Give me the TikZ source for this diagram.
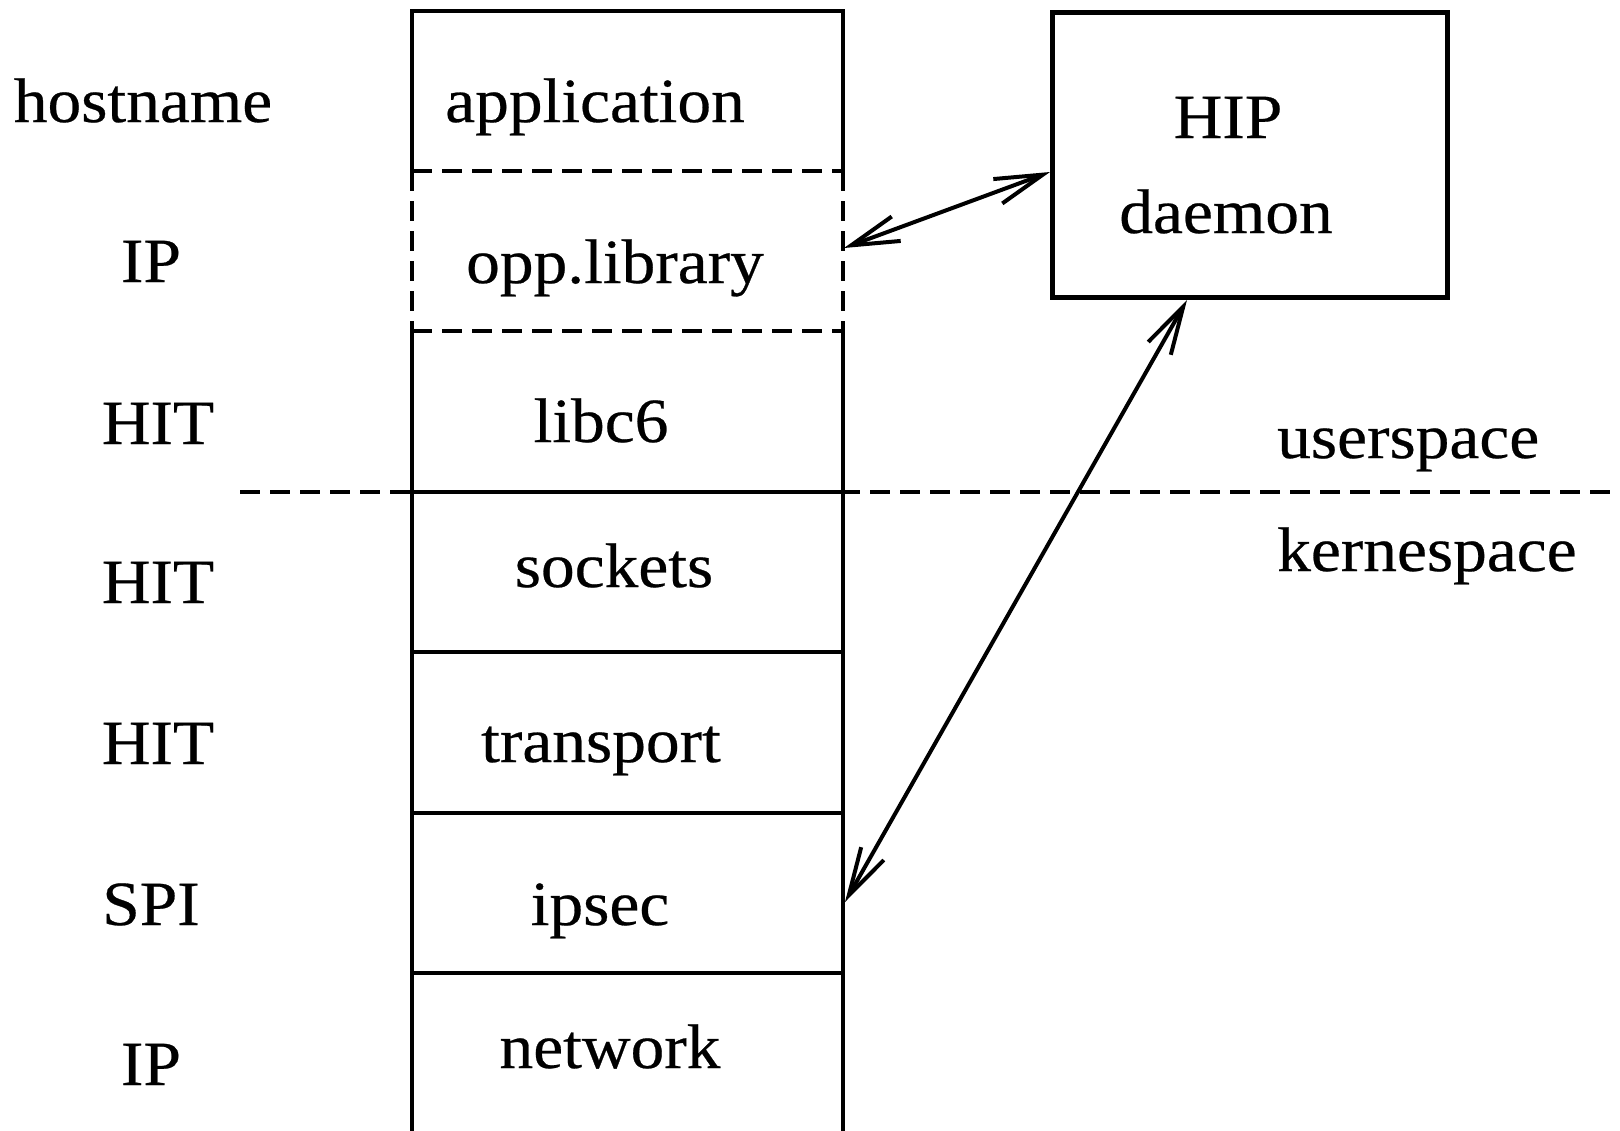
\documentclass[tikz,border=0pt]{standalone}
\usepackage{fontspec}
\setmainfont[FakeStretch=1.07,FakeBold=0.4]{Liberation Serif}
\usetikzlibrary{arrows.meta}
\begin{document}
\begin{tikzpicture}[x=1pt,y=-1pt,
  lbl/.style={anchor=base,inner sep=0pt,font=\fontsize{63}{70}\selectfont},
  llbl/.style={anchor=base west,inner sep=0pt,font=\fontsize{63}{70}\selectfont},
  thick line/.style={line width=4.6pt},
  dsh/.style={line width=4.6pt,dash pattern=on 20pt off 10pt},
  biarrow/.style={line width=4pt,{Straight Barb[length=48pt,width=26pt,line width=4pt]}-{Straight Barb[length=48pt,width=26pt,line width=4pt]}},
  hipbox/.style={draw,line width=4.6pt,minimum width=395pt,minimum height=285pt,inner sep=0pt}
]
\useasboundingbox (0,0) rectangle (1620,1130);
% stack
\draw[thick line] (412,1135) -- (412,331);
\draw[thick line] (843,1135) -- (843,331);
\draw[thick line] (412,171) -- (412,11) -- (843,11) -- (843,171);
\draw[dsh] (412,171) -- (412,331);
\draw[dsh] (843,171) -- (843,331);
\draw[dsh] (412,171) -- (843,171);
\draw[dsh] (412,331) -- (843,331);
\draw[thick line] (412,492) -- (843,492);
\draw[thick line] (412,652) -- (843,652);
\draw[thick line] (412,813) -- (843,813);
\draw[thick line] (412,973) -- (843,973);
% userspace / kernelspace separator
\draw[dsh] (240,492) -- (1625,492);
% stack labels
\node[lbl] (app) at (595,122) {application};
\node[lbl] (opp) at (615,283) {opp.library};
\node[lbl] (libc) at (601,442) {libc6};
\node[lbl] (sock) at (614,587) {sockets};
\node[lbl] (trans) at (601,762) {transport};
\node[lbl] (ipsec) at (600,925) {ipsec};
\node[lbl] (net) at (610,1068) {network};
% left labels
\node[lbl] (l1) at (143,122) {hostname};
\node[lbl] (l2) at (151,282) {IP};
\node[lbl] (l3) at (158,444) {HIT};
\node[lbl] (l4) at (158,603) {HIT};
\node[lbl] (l5) at (158,764) {HIT};
\node[lbl] (l6) at (151,925) {SPI};
\node[lbl] (l7) at (151,1085) {IP};
% HIP daemon
\node[hipbox] (hip) at (1250,155) {};
\node[lbl] (hipt) at (1228,138) {HIP};
\node[lbl] (hipd) at (1226,233) {daemon};
% space labels
\node[llbl] (us) at (1277,458) {userspace};
\node[llbl] (ks) at (1277,571) {kernespace};
% connectors
\coordinate (oppR) at (844,248);
\coordinate (hipL) at (1050,172);
\coordinate (hipB) at (1187,300);
\coordinate (ipsecR) at (845,902);
\draw[biarrow] (oppR) -- (hipL);
\draw[biarrow] (hipB) -- (ipsecR);
\end{tikzpicture}
\end{document}
